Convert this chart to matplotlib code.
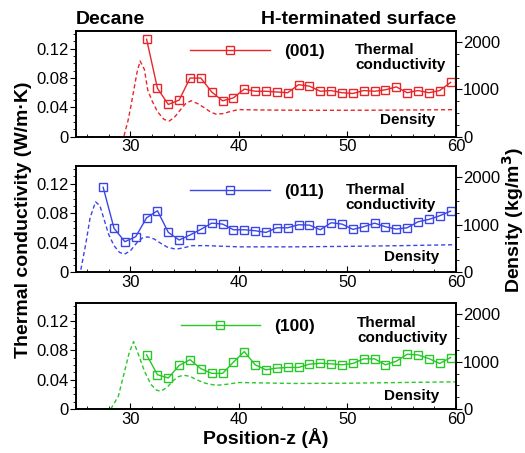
import numpy as np
import matplotlib
matplotlib.use("Agg")
import matplotlib.pyplot as plt
from matplotlib.ticker import MultipleLocator

plt.rcParams['font.family'] = ['Liberation Sans', 'DejaVu Sans']

# thermal conductivity (W/m.K) per bin
x_001 = [31.5, 32.5, 33.5, 34.5, 35.5, 36.5, 37.5, 38.5, 39.5, 40.5, 41.5, 42.5, 43.5, 44.5, 45.5,
         46.5, 47.5, 48.5, 49.5, 50.5, 51.5, 52.5, 53.5, 54.5, 55.5, 56.5, 57.5, 58.5, 59.5]
k_001 = [0.133, 0.066, 0.044, 0.050, 0.080, 0.080, 0.061, 0.049, 0.053, 0.065, 0.062, 0.062, 0.061, 0.060, 0.071,
         0.069, 0.062, 0.063, 0.060, 0.059, 0.063, 0.062, 0.064, 0.068, 0.060, 0.063, 0.060, 0.063, 0.074]

x_011 = [27.5, 28.5, 29.5, 30.5, 31.5, 32.5, 33.5, 34.5, 35.5, 36.5, 37.5, 38.5, 39.5, 40.5, 41.5, 42.5, 43.5,
         44.5, 45.5, 46.5, 47.5, 48.5, 49.5, 50.5, 51.5, 52.5, 53.5, 54.5, 55.5, 56.5, 57.5, 58.5, 59.5]
k_011 = [0.1153, 0.0597, 0.0415, 0.0483, 0.074, 0.0835, 0.0542, 0.0438, 0.0506, 0.0583, 0.0667, 0.0654, 0.0577,
         0.0577, 0.0564, 0.0541, 0.0604, 0.0604, 0.0645, 0.064, 0.0577, 0.0672, 0.0654, 0.0582, 0.0618, 0.0667,
         0.0618, 0.0586, 0.0604, 0.0685, 0.0717, 0.0767, 0.083]

x_100 = [31.5, 32.5, 33.5, 34.5, 35.5, 36.5, 37.5, 38.5, 39.5, 40.5, 41.5, 42.5, 43.5, 44.5, 45.5,
         46.5, 47.5, 48.5, 49.5, 50.5, 51.5, 52.5, 53.5, 54.5, 55.5, 56.5, 57.5, 58.5, 59.5]
k_100 = [0.074, 0.0468, 0.0423, 0.0595, 0.0673, 0.055, 0.0486, 0.0486, 0.0639, 0.0783, 0.0603, 0.0535, 0.0558,
         0.0567, 0.0567, 0.0612, 0.0625, 0.0616, 0.0603, 0.0621, 0.0684, 0.0684, 0.0603, 0.0652, 0.0747, 0.0738,
         0.0688, 0.0621, 0.0702]

# density profiles (kg/m3)
zd_001 = [25, 29.4, 29.8, 30.1, 30.6, 30.9, 31.3, 31.6, 32.0, 32.5, 33.1, 33.6, 34.1, 34.6, 35.1, 35.6,
          36.2, 36.9, 37.4, 37.9, 38.6, 39.3, 40.0, 42, 45, 48, 52, 56, 60]
rho_001 = [0, 0, 350, 700, 1340, 1600, 1420, 990, 760, 530, 366, 332, 420, 564, 700, 761,
           700, 600, 520, 476, 490, 540, 573, 565, 560, 558, 560, 565, 572]

zd_011 = [25, 25.4, 25.9, 26.3, 26.8, 27.2, 27.6, 28.0, 28.5, 29.0, 29.45, 30.0, 30.6, 31.1, 31.6, 32.2,
          32.8, 33.4, 34.0, 34.4, 35.0, 35.7, 37, 40, 45, 50, 55, 60]
rho_011 = [0, 0, 600, 1150, 1480, 1400, 1100, 800, 560, 420, 380, 450, 620, 720, 745, 700,
           610, 530, 495, 493, 520, 560, 560, 535, 535, 545, 560, 580]

zd_100 = [25, 28.2, 28.9, 29.4, 29.9, 30.3, 30.8, 31.3, 31.9, 32.4, 32.8, 33.4, 33.9, 34.4, 34.9, 35.5,
          36.1, 36.9, 37.9, 38.8, 40, 45, 50, 55, 60]
rho_100 = [0, 0, 270, 730, 1190, 1425, 1120, 800, 520, 400, 375, 460, 590, 680, 715, 690,
           620, 545, 500, 520, 560, 540, 545, 560, 575]

panels = [
    dict(label='(001)', x=x_001, k=k_001, zd=zd_001, rho=rho_001, color='#e8262a',
         rect=[0.1448, 0.6982, 0.7238, 0.234], leg=(0.30, 0.80), th=(0.735, 0.745), dens=(0.80, 0.16)),
    dict(label='(011)', x=x_011, k=k_011, zd=zd_011, rho=rho_011, color='#3c46e6',
         rect=[0.1448, 0.3989, 0.7238, 0.2353], leg=(0.30, 0.756), th=(0.71, 0.70), dens=(0.81, 0.14)),
    dict(label='(100)', x=x_100, k=k_100, zd=zd_100, rho=rho_100, color='#28c828',
         rect=[0.1448, 0.0971, 0.7238, 0.234], leg=(0.275, 0.776), th=(0.74, 0.74), dens=(0.81, 0.12)),
]

fig = plt.figure(figsize=(5.25, 4.53), dpi=100)

for i, p in enumerate(panels):
    ax = fig.add_axes(p['rect'])
    ax2 = ax.twinx()
    ax.set_zorder(ax2.get_zorder() + 1)
    ax.patch.set_visible(False)

    ax2.plot(p['zd'], p['rho'], ls=(0, (3, 2)), lw=1.0, color=p['color'])
    ax.plot(p['x'], p['k'], '-s', color=p['color'], lw=1.0, ms=5.5, mfc='none', mew=1.0,
            label=p['label'])

    ax.set_xlim(25, 60)
    ax.set_ylim(0, 0.1446)
    ax2.set_ylim(0, 2240)

    ax.set_yticks([0, 0.04, 0.08, 0.12])
    ax.set_yticklabels(['0', '0.04', '0.08', '0.12'])
    ax.yaxis.set_minor_locator(MultipleLocator(0.01))
    ax.set_xticks([30, 40, 50, 60])
    ax.xaxis.set_minor_locator(MultipleLocator(2))
    ax2.set_yticks([0, 1000, 2000])
    ax2.yaxis.set_minor_locator(MultipleLocator(250))

    ax.tick_params(axis='y', which='major', direction='out', length=4, labelsize=12, pad=1)
    ax.tick_params(axis='y', which='minor', direction='out', length=2)
    ax.tick_params(axis='x', which='major', direction='in', length=4, labelsize=12, pad=2)
    ax.tick_params(axis='x', which='minor', direction='in', length=2)
    ax2.tick_params(axis='y', which='major', direction='out', length=4, labelsize=12, pad=1)
    ax2.tick_params(axis='y', which='minor', direction='out', length=2)
    for a in (ax, ax2):
        for s in a.spines.values():
            s.set_linewidth(1.2)

    ax.legend(loc='center left', bbox_to_anchor=p['leg'], frameon=False, numpoints=1,
              handlelength=4.6, handletextpad=0.8, borderpad=0, borderaxespad=0,
              prop=dict(weight='bold', size=12.5))
    ax.text(p['th'][0], p['th'][1], 'Thermal\nconductivity', transform=ax.transAxes,
            fontsize=11, fontweight='bold', va='center', ha='left', linespacing=1.05)
    ax.text(p['dens'][0], p['dens'][1], 'Density', transform=ax.transAxes,
            fontsize=11, fontweight='bold', va='center', ha='left')

    if i == 0:
        ax.text(0.0, 1.03, 'Decane', transform=ax.transAxes, fontsize=14, fontweight='bold',
                ha='left', va='bottom')
        ax.text(1.0, 1.03, 'H-terminated surface', transform=ax.transAxes, fontsize=14,
                fontweight='bold', ha='right', va='bottom')
    if i == 2:
        ax.set_xlabel('Position-z (Å)', fontsize=14, fontweight='bold', labelpad=1)

fig.text(0.045, 0.515, 'Thermal conductivity (W/m·K)', rotation=90, fontsize=14,
         fontweight='bold', ha='center', va='center')
fig.text(0.978, 0.515, 'Density (kg/m$^\\mathbf{3}$)', rotation=90, fontsize=14,
         fontweight='bold', ha='center', va='center')

fig.savefig('out.png', dpi=100)
